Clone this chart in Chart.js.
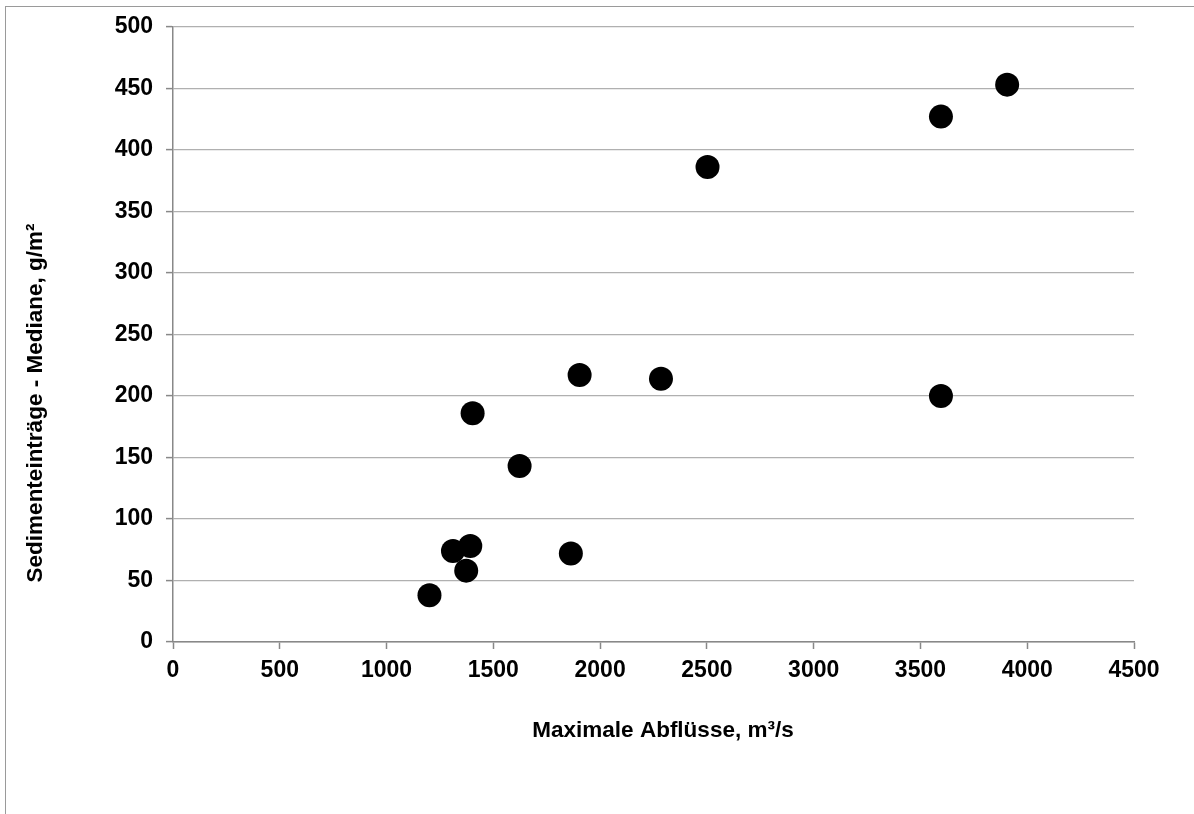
<!DOCTYPE html>
<html>
<head>
<meta charset="utf-8">
<script src="https://cdn.jsdelivr.net/npm/chart.js@4.4.1/dist/chart.umd.min.js"></script>
<style>
html,body{margin:0;padding:0;background:#fff;}
#wrap{position:relative;width:1194px;height:814px;}
</style>
</head>
<body>
<div id="wrap"><canvas id="c" width="1194" height="814"></canvas></div>
<script>
// Data
const maxAbfluesse = [1201, 1311, 1392, 1373, 1863, 1623, 1403, 1904, 2285, 2503, 3596, 3906, 3596];
const sedimentMedian = [38, 74, 78, 58, 72, 143, 186, 217, 214, 386, 427, 453, 200];
const xTitle = 'Maximale Abflüsse, m³/s';
const yTitle = 'Sedimenteinträge - Mediane, g/m²';
const xMin = 0, xMax = 4500, xStep = 500;
const yMin = 0, yMax = 500, yStep = 50;

const points = maxAbfluesse.map((x, i) => ({x: x, y: sedimentMedian[i]}));
const FONT = "'Liberation Sans', Arial, sans-serif";

const decor = {
  id: 'decor',
  beforeDraw(chart) {
    const ctx = chart.ctx;
    ctx.save();
    ctx.fillStyle = '#fff';
    ctx.fillRect(0, 0, chart.width, chart.height);
    ctx.strokeStyle = '#9a9a9a';
    ctx.lineWidth = 1;
    ctx.strokeRect(5.5, 6.5, chart.width + 10, chart.height + 10);
    ctx.restore();
  },
  afterDraw(chart) {
    const ctx = chart.ctx;
    ctx.save();
    ctx.fillStyle = '#000';
    ctx.font = 'bold 22.5px ' + FONT;
    ctx.textAlign = 'center';
    ctx.textBaseline = 'middle';
    ctx.fillText(xTitle, 663, 731);
    ctx.translate(36, 403);
    ctx.rotate(-Math.PI / 2);
    ctx.fillText(yTitle, 0, 0);
    ctx.restore();
  }
};

const plain = v => String(v);

new Chart(document.getElementById('c'), {
  type: 'scatter',
  data: {
    datasets: [{
      data: points,
      backgroundColor: '#000',
      borderColor: '#000',
      borderWidth: 0,
      pointRadius: 12,
      pointHoverRadius: 12
    }]
  },
  options: {
    responsive: false,
    animation: false,
    devicePixelRatio: 1,
    layout: {padding: {left: 0, top: 20, right: 60, bottom: 0}},
    plugins: {legend: {display: false}, tooltip: {enabled: false}},
    scales: {
      x: {
        type: 'linear',
        min: xMin, max: xMax,
        ticks: {stepSize: xStep, callback: plain, color: '#000', font: {family: FONT, size: 23, weight: 'bold'}, padding: 8, maxRotation: 0},
        grid: {drawOnChartArea: false, drawTicks: true, tickLength: 7, tickColor: '#888', tickWidth: 1.5},
        border: {color: '#888', width: 1.5},
        afterFit(s) { s.height = 172; }
      },
      y: {
        type: 'linear',
        min: yMin, max: yMax,
        ticks: {stepSize: yStep, callback: plain, color: '#000', font: {family: FONT, size: 23, weight: 'bold'}, padding: 13},
        grid: {color: '#b0b0b0', lineWidth: 1.2, drawTicks: true, tickLength: 7, tickColor: '#888', tickWidth: 1.5},
        border: {color: '#888', width: 1.5},
        afterFit(s) { s.width = 173; }
      }
    }
  },
  plugins: [decor]
});
</script>
</body>
</html>
